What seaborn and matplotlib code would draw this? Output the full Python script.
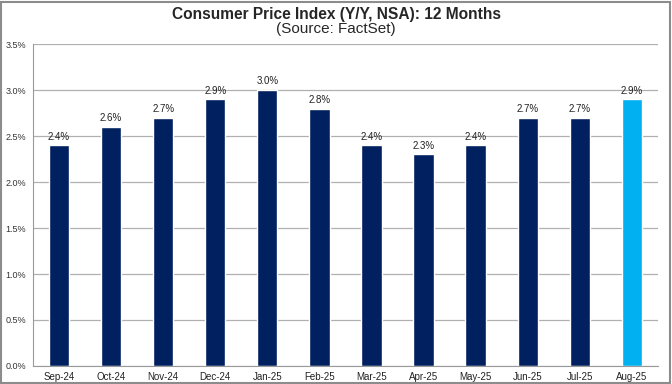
import matplotlib
matplotlib.use("Agg")
import matplotlib.pyplot as plt
import seaborn as sns
import pandas as pd
from matplotlib.patches import Rectangle
from matplotlib.ticker import FuncFormatter, MultipleLocator

months = ['Sep-24', 'Oct-24', 'Nov-24', 'Dec-24', 'Jan-25', 'Feb-25',
          'Mar-25', 'Apr-25', 'May-25', 'Jun-25', 'Jul-25', 'Aug-25']
cpi = [2.4, 2.6, 2.7, 2.9, 3.0, 2.8, 2.4, 2.3, 2.4, 2.7, 2.7, 2.9]

navy = '#002060'
light_blue = '#00B0F0'
colors = [navy] * (len(months) - 1) + [light_blue]

df = pd.DataFrame({'month': months, 'cpi': cpi})

sns.set_style('white')
plt.rcParams['font.family'] = ['Liberation Sans', 'DejaVu Sans']

fig = plt.figure(figsize=(6.72, 3.84), dpi=100)
ax = fig.add_axes([0.049, 0.047, 0.93, 0.838])

sns.barplot(data=df, x='month', y='cpi', hue='month', palette=colors,
            legend=False, width=0.39, ax=ax, saturation=1)

# value labels on top of bars
for i, v in enumerate(cpi):
    ax.text(i, v + 0.04, f'{v:.1f}%', ha='center', va='bottom',
            fontsize=7, color='#222222')

ax.set_ylim(0, 3.5)
ax.set_xlim(-0.5, len(months) - 0.5)
ax.yaxis.set_major_locator(MultipleLocator(0.5))
ax.yaxis.set_major_formatter(FuncFormatter(lambda v, _: f'{v:.1f}%'))
ax.grid(axis='y', color='#b0b0b0', linewidth=0.9)
ax.set_axisbelow(True)
ax.set_xlabel('')
ax.set_ylabel('')

for side in ['top', 'right']:
    ax.spines[side].set_visible(False)
ax.spines['left'].set_color('#9a9a9a')
ax.spines['bottom'].set_color('#9a9a9a')

ax.tick_params(axis='y', labelsize=6.5, colors='#333333', length=3,
               color='#9a9a9a', pad=2)
ax.tick_params(axis='x', labelsize=7, colors='#222222', length=0, pad=4)
# tick marks between categories
ax.set_xticks([i + 0.5 for i in range(-1, len(months))], minor=True)
ax.tick_params(axis='x', which='minor', length=3, color='#9a9a9a')

fig.text(0.5, 0.963, 'Consumer Price Index (Y/Y, NSA): 12 Months',
         ha='center', va='center', fontsize=11.2, fontweight='bold')
fig.text(0.5, 0.925, '(Source: FactSet)', ha='center', va='center',
         fontsize=11)

fig.patches.append(Rectangle((0.002, 0.003), 0.995, 0.993, transform=fig.transFigure,
                             fill=False, edgecolor='#8c8c8c', linewidth=1.5))

fig.savefig('out.png', dpi=100)
